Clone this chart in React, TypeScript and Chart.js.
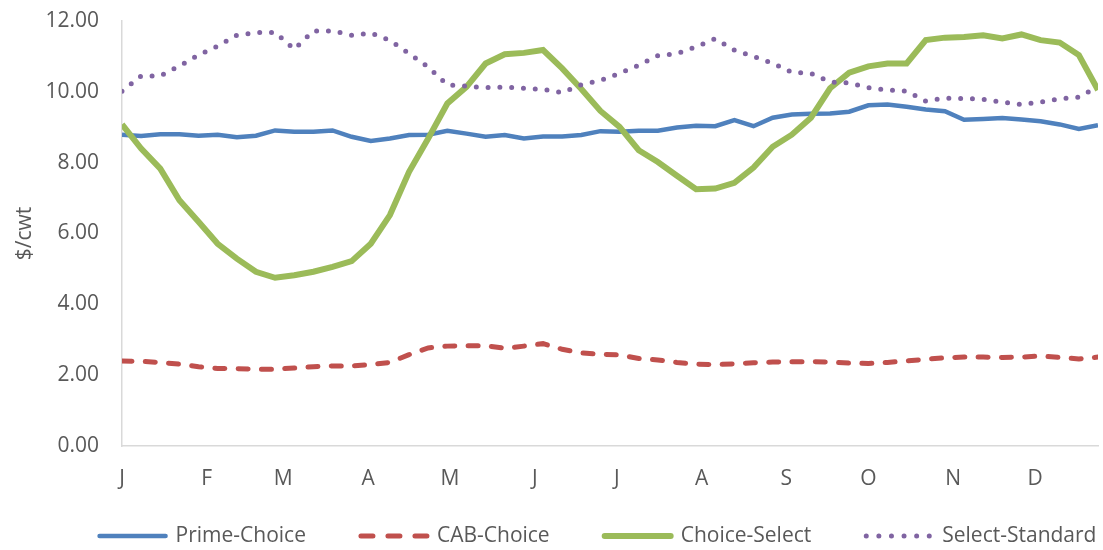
import React, { useEffect, useRef } from "react";
import { Chart, registerables } from "chart.js";

Chart.register(...registerables);

const monthLabels = ["J", "F", "M", "A", "M", "J", "J", "A", "S", "O", "N", "D"];
const monthStartDays = [0, 31, 59, 90, 120, 151, 181, 212, 243, 273, 304, 334];
const yTickValues = [0, 2, 4, 6, 8, 10, 12];

const seriesNames = ["Prime-Choice", "CAB-Choice", "Choice-Select", "Select-Standard"];

const primeChoice = [
  8.79, 8.75, 8.8, 8.8, 8.76, 8.79, 8.72, 8.76, 8.91, 8.87, 8.87, 8.91, 8.73,
  8.61, 8.68, 8.78, 8.79, 8.9, 8.82, 8.73, 8.78, 8.68, 8.74, 8.74, 8.78, 8.89,
  8.87, 8.9, 8.9, 8.99, 9.04, 9.03, 9.2, 9.03, 9.27, 9.36, 9.38, 9.39, 9.44,
  9.62, 9.64, 9.58, 9.5, 9.45, 9.21, 9.23, 9.26, 9.22, 9.17, 9.08, 8.95, 9.06,
];

const cabChoice = [
  2.4, 2.39, 2.36, 2.31, 2.24, 2.19, 2.18, 2.17, 2.17, 2.2, 2.24, 2.26, 2.26,
  2.3, 2.36, 2.58, 2.77, 2.82, 2.83, 2.83, 2.76, 2.82, 2.89, 2.73, 2.63, 2.59,
  2.57, 2.47, 2.43, 2.36, 2.31, 2.3, 2.32, 2.35, 2.37, 2.38, 2.38, 2.37, 2.34,
  2.33, 2.36, 2.4, 2.45, 2.49, 2.51, 2.51, 2.5, 2.51, 2.54, 2.5, 2.46, 2.51,
];

const choiceSelect = [
  9.08, 8.4, 7.83, 6.94, 6.33, 5.71, 5.29, 4.92, 4.75, 4.82, 4.92, 5.06, 5.22,
  5.71, 6.52, 7.74, 8.68, 9.67, 10.14, 10.8, 11.06, 11.1, 11.18, 10.66, 10.08, 9.46,
  9.01, 8.35, 8.02, 7.63, 7.25, 7.27, 7.43, 7.86, 8.45, 8.79, 9.27, 10.1, 10.54,
  10.72, 10.8, 10.8, 11.46, 11.53, 11.55, 11.6, 11.51, 11.62, 11.46, 11.39, 11.04, 10.05,
];

const selectStandard = [
  10.02, 10.45, 10.45, 10.73, 11.04, 11.29, 11.6, 11.67, 11.68, 11.2, 11.72, 11.72, 11.6,
  11.66, 11.45, 11.08, 10.7, 10.2, 10.16, 10.12, 10.13, 10.1, 10.07, 9.98, 10.2, 10.32,
  10.52, 10.75, 11.02, 11.08, 11.27, 11.5, 11.18, 11.0, 10.81, 10.55, 10.52, 10.28, 10.25,
  10.12, 10.05, 10.02, 9.74, 9.82, 9.81, 9.79, 9.71, 9.64, 9.71, 9.8, 9.85, 10.15,
];

const FONT = '"Open Sans", "Liberation Sans", sans-serif';
const TEXT_COLOR = "#595959";
const AXIS_COLOR = "#D9D9D9";

const toPoints = (values: number[]) => values.map((v, i) => ({ x: i, y: v }));

const legendStyles = [
  { width: 4.5, dash: [] as number[] },
  { width: 5, dash: [12, 15] },
  { width: 6, dash: [] as number[] },
  { width: 5, dash: [0, 12.6] },
];

const customLegend = {
  id: "customLegend",
  afterDraw(chart: any) {
    const ctx = chart.ctx as CanvasRenderingContext2D;
    ctx.save();
    ctx.font = `21px ${FONT}`;
    const symW = 66;
    const gapText = 10;
    const gapItem = 55;
    const items = chart.data.datasets.map((ds: any, i: number) => ({
      ds,
      style: legendStyles[i],
      w: ctx.measureText(ds.label).width,
    }));
    const total =
      items.reduce((s: number, it: any) => s + symW + gapText + it.w, 0) +
      gapItem * (items.length - 1);
    let x = 598 - total / 2;
    const y = 536;
    items.forEach((it: any) => {
      ctx.beginPath();
      ctx.strokeStyle = it.ds.borderColor;
      ctx.lineWidth = it.style.width;
      ctx.lineCap = "round";
      ctx.setLineDash(it.style.dash);
      ctx.moveTo(x, y);
      ctx.lineTo(x + symW, y);
      ctx.stroke();
      ctx.setLineDash([]);
      ctx.fillStyle = TEXT_COLOR;
      ctx.textBaseline = "middle";
      ctx.textAlign = "left";
      ctx.fillText(it.ds.label, x + symW + gapText, y);
      x += symW + gapText + it.w + gapItem;
    });
    ctx.restore();
  },
};

export default function App() {
  const canvasRef = useRef<HTMLCanvasElement | null>(null);

  useEffect(() => {
    if (!canvasRef.current) return;
    const chart = new Chart(canvasRef.current, {
      type: "line",
      data: {
        datasets: [
          {
            label: seriesNames[0],
            data: toPoints(primeChoice),
            borderColor: "#4F81BD",
            borderWidth: 4.5,
            pointRadius: 0,
            tension: 0,
            order: 4,
          },
          {
            label: seriesNames[1],
            data: toPoints(cabChoice),
            borderColor: "#C0504D",
            borderWidth: 5,
            borderDash: [10, 13.3],
            borderCapStyle: "round",
            pointRadius: 0,
            tension: 0,
            order: 3,
          },
          {
            label: seriesNames[2],
            data: toPoints(choiceSelect),
            borderColor: "#9BBB59",
            borderWidth: 6,
            pointRadius: 0,
            tension: 0,
            order: 2,
          },
          {
            label: seriesNames[3],
            data: toPoints(selectStandard),
            borderColor: "#8064A2",
            borderWidth: 5,
            borderDash: [0, 11.8],
            borderCapStyle: "round",
            pointRadius: 0,
            tension: 0,
            order: 1,
          },
        ],
      },
      options: {
        animation: false,
        responsive: false,
        layout: { padding: { left: 0, right: 5, top: 21, bottom: 61 } },
        plugins: {
          legend: { display: false },
          tooltip: { enabled: false },
        },
        scales: {
          x: {
            type: "linear",
            min: 0,
            max: primeChoice.length - 1,
            grid: { display: true, drawOnChartArea: false, drawTicks: false },
            border: { display: true, color: AXIS_COLOR, width: 1.5 },
            afterBuildTicks: (scale: any) => {
              scale.ticks = monthStartDays.map((d) => ({ value: d / 7 }));
            },
            afterFit: (scale: any) => {
              scale.height = 43;
              scale.paddingLeft = 0;
              scale.paddingRight = 0;
            },
            ticks: {
              autoSkip: false,
              maxRotation: 0,
              padding: 20,
              color: TEXT_COLOR,
              font: { family: FONT, size: 21 },
              callback: (value: any, index: number) => monthLabels[index],
            },
          },
          y: {
            min: 0,
            max: 12,
            grid: { display: true, drawOnChartArea: false, drawTicks: false },
            border: { display: true, color: AXIS_COLOR, width: 1.5 },
            afterBuildTicks: (scale: any) => {
              scale.ticks = yTickValues.map((v) => ({ value: v }));
            },
            afterFit: (scale: any) => {
              scale.width = 122;
              scale.paddingTop = 0;
              scale.paddingBottom = 0;
            },
            ticks: {
              padding: 23,
              color: TEXT_COLOR,
              font: { family: FONT, size: 21 },
              callback: (value: any) => Number(value).toFixed(2),
            },
            title: {
              display: true,
              text: "$/cwt",
              color: TEXT_COLOR,
              font: { family: FONT, size: 21 },
              padding: { top: 12, bottom: 0 },
            },
          },
        },
      },
      plugins: [customLegend],
    });
    return () => chart.destroy();
  }, []);

  return (
    <div style={{ position: "absolute", left: 0, top: 0, width: 1103, height: 550, background: "#fff" }}>
      <canvas ref={canvasRef} width={1103} height={550} style={{ display: "block" }} />
    </div>
  );
}
